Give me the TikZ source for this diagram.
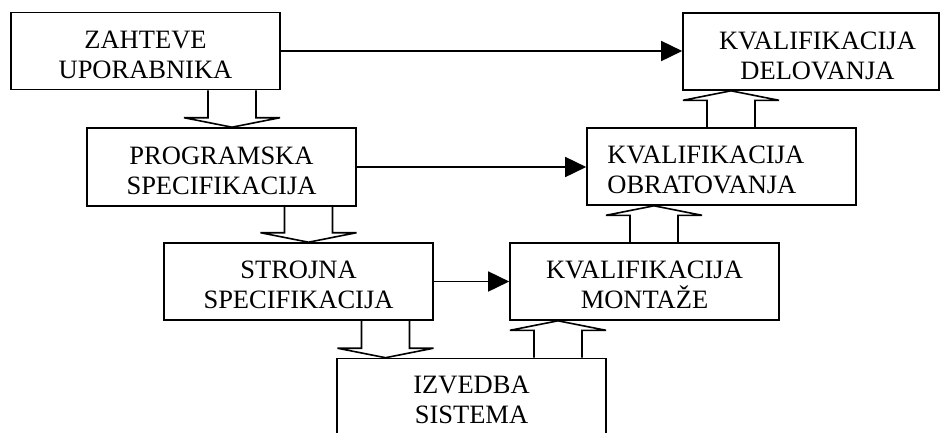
\documentclass[tikz,border=0pt]{standalone}
\usepackage{fontspec}
\setmainfont{Liberation Serif}
\usetikzlibrary{arrows.meta,calc}

\tikzset{
  box/.style={draw, line width=1.6pt, minimum width=269pt, minimum height=77pt,
    inner sep=0pt},
  txt/.style={inner sep=0pt, align=center, font=\fontsize{26.5}{30}\selectfont},
  flow/.style={line width=1.6pt, -{Triangle[length=21pt,width=20pt]}},
  hollow/.style={draw, line width=1.6pt, line join=miter}
}

% hollow block arrow pointing down: #1 start point, #2 tip point
\newcommand\hollowdown[2]{%
  \path[hollow] let \p1=(#1), \p2=(#2) in
    (\x1-24pt,\y1) -- (\x1-24pt,\y2+9.5pt) -- (\x1-48pt,\y2+9.5pt) -- (\x1,\y2)
    -- (\x1+48pt,\y2+9.5pt) -- (\x1+24pt,\y2+9.5pt) -- (\x1+24pt,\y1);}
% hollow block arrow pointing up: #1 start point, #2 tip point
\newcommand\hollowup[2]{%
  \path[hollow] let \p1=(#1), \p2=(#2) in
    (\x1-24pt,\y1) -- (\x1-24pt,\y2-9.5pt) -- (\x1-48pt,\y2-9.5pt) -- (\x1,\y2)
    -- (\x1+48pt,\y2-9.5pt) -- (\x1+24pt,\y2-9.5pt) -- (\x1+24pt,\y1);}

\begin{document}
\begin{tikzpicture}[x=1pt,y=-1pt]
\useasboundingbox (0,0) rectangle (940,432);

% boxes
\node[box] (zahteve) at (145.5,51) {};
\node[box, minimum height=78pt] (programska) at (221.5,167) {};
\node[box] (strojna) at (298.5,281.5) {};
\node[box] (izvedba) at (471.5,397) {};
\node[box] (montaze) at (644.5,281.5) {};
\node[box] (obratovanja) at (721.5,166.5) {};
\node[box, minimum width=256pt] (delovanja) at (811,51.5) {};

% box captions
\node[txt] (zahteve-t) at ([yshift=-4pt]zahteve.center) {ZAHTEVE\\UPORABNIKA};
\node[txt] (programska-t) at ([yshift=-3.5pt]programska.center) {PROGRAMSKA\\SPECIFIKACIJA};
\node[txt] (strojna-t) at ([yshift=-3.5pt]strojna.center) {STROJNA\\SPECIFIKACIJA};
\node[txt] (izvedba-t) at ([yshift=-3pt]izvedba.center) {IZVEDBA\\SISTEMA};
\node[txt] (montaze-t) at ([yshift=-3.5pt]montaze.center) {KVALIFIKACIJA\\MONTAŽE};
\node[txt, align=left, anchor=west] (obratovanja-t) at ([xshift=21pt,yshift=-3pt]obratovanja.west) {KVALIFIKACIJA\\OBRATOVANJA};
\node[txt] (delovanja-t) at ([xshift=6.5pt,yshift=-4pt]delovanja.center) {KVALIFIKACIJA\\DELOVANJA};

% shaft centres of the block arrows
\coordinate (s1) at (232,0);
\coordinate (s2) at (308.5,0);
\coordinate (s3) at (385.5,0);
\coordinate (s4) at (558,0);
\coordinate (s5) at (654,0);
\coordinate (s6) at (731,0);

% downward chain
\hollowdown{s1 |- zahteve.south}{s1 |- programska.north}
\hollowdown{s2 |- programska.south}{s2 |- strojna.north}
\hollowdown{s3 |- strojna.south}{s3 |- izvedba.north}

% upward chain
\hollowup{s4 |- izvedba.north}{s4 |- montaze.south}
\hollowup{s5 |- montaze.north}{s5 |- obratovanja.south}
\hollowup{s6 |- obratovanja.north}{s6 |- delovanja.south}

% horizontal links
\draw[flow] (zahteve.east) -- (zahteve.east -| delovanja.west);
\draw[flow] (programska.east) -- (programska.east -| obratovanja.west);
\draw[flow] (strojna.east) -- (strojna.east -| montaze.west);
\end{tikzpicture}
\end{document}
